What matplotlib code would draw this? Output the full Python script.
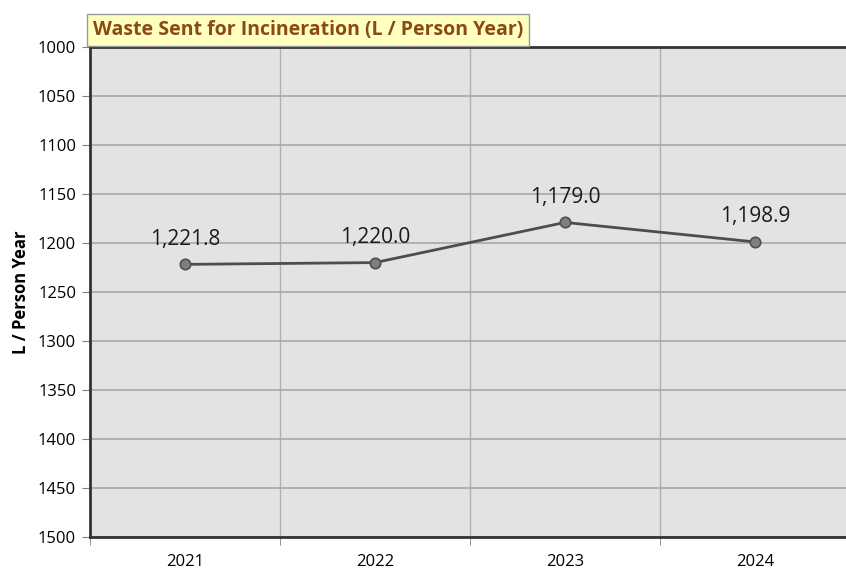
import matplotlib
matplotlib.use("Agg")
import matplotlib.pyplot as plt

years = ["2021", "2022", "2023", "2024"]
litres = [1221.8, 1220.0, 1179.0, 1198.9]
y_ticks = [1000, 1050, 1100, 1150, 1200, 1250, 1300, 1350, 1400, 1450, 1500]

plt.rcParams["font.family"] = ["Open Sans", "DejaVu Sans"]

fig = plt.figure(figsize=(8.46, 5.72), dpi=100)
ax = fig.add_axes([90 / 846, 35 / 572, 760 / 846, 490 / 572])
ax.set_facecolor("#e3e3e3")

xs = list(range(len(years)))
ax.plot(xs, litres, color="#4d4d4d", linewidth=2, marker="o", markersize=7.5,
        markerfacecolor="#7f7f7f", markeredgecolor="#505050", markeredgewidth=1.2,
        zorder=3)
for x, v in zip(xs, litres):
    ax.annotate(f"{v:,.1f}", (x, v), xytext=(0, 14), textcoords="offset points",
                ha="center", va="baseline", fontsize=15, color="#1a1a1a")

ax.set_xlim(-0.5, len(years) - 0.5)
ax.set_ylim(1500, 1000)
ax.set_yticks(y_ticks)
ax.set_yticklabels([str(t) for t in y_ticks], fontsize=12)
ax.set_xticks(xs)
ax.set_xticklabels(years, fontsize=12)
ax.tick_params(axis="x", length=0, pad=12)
ax.set_xticks([x + 0.5 for x in [-1] + xs], minor=True)
ax.tick_params(axis="x", which="minor", length=6, color="#808080")
ax.tick_params(axis="y", length=6, color="#808080", pad=4)

ax.grid(True, axis="y", color="#a8a8a8", linewidth=1.2)
ax.grid(True, axis="x", which="minor", color="#b0b0b0", linewidth=1)
ax.set_axisbelow(True)

for side in ["left", "bottom", "top"]:
    ax.spines[side].set_color("#333333")
    ax.spines[side].set_linewidth(2)
ax.spines["right"].set_visible(False)

ax.set_ylabel("L / Person Year", fontsize=12, fontweight="bold", labelpad=6)

fig.text(93 / 846, 1 - 30 / 572, "Waste Sent for Incineration (L / Person Year)",
         fontsize=14, fontweight="bold", color="#8b4a14", va="center", ha="left",
         bbox=dict(boxstyle="square,pad=0.3", facecolor="#ffffc0",
                   edgecolor="#999999", linewidth=1))

fig.savefig("out.png", dpi=100)
